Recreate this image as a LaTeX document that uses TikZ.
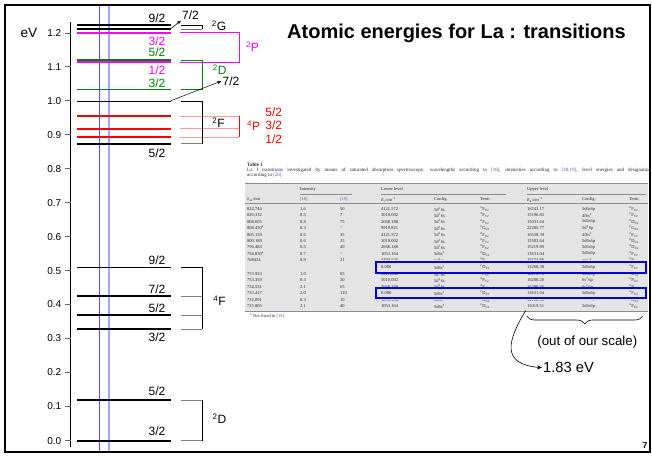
\documentclass[tikz,border=0pt]{standalone}
\usepackage{fontspec}
\setmainfont{Liberation Sans}
\newfontfamily\tabfont{Liberation Serif}
\usetikzlibrary{arrows.meta,decorations.pathreplacing}
\definecolor{mag}{RGB}{255,0,255}
\definecolor{grn}{RGB}{0,128,0}
\definecolor{rd}{RGB}{255,0,0}
\definecolor{blueA}{RGB}{80,80,255}
\definecolor{blueB}{RGB}{165,165,255}
\definecolor{tabgray}{RGB}{228,228,228}
\definecolor{tabtxt}{RGB}{40,40,40}
\definecolor{boxblue}{RGB}{0,0,225}
\definecolor{reflink}{RGB}{70,90,200}
\newcommand\trm[3]{\textsuperscript{#1}#2\textsubscript{#3/2}}
\newcommand\sterm[2]{\textsuperscript{#1}#2}
\newcommand\cfa{5d\textsuperscript{2}6s}
\newcommand\cfb{5d6s\textsuperscript{2}}
\newcommand\cfc{5d6s6p}
\newcommand\cfd{4f6s\textsuperscript{2}}
\newcommand\cfe{5d\textsuperscript{2}6p}
\newcommand\cff{6s\textsuperscript{2}6p}
\newcommand\rf[1]{\textcolor{reflink}{[#1]}}
\begin{document}
\begin{tikzpicture}[x=1pt,y=-1pt,
  lvl/.style={line width=1.6pt},
  brk/.style={line width=0.6pt},
  ghost/.style={line width=0.8pt},
  ticklab/.style={font=\fontsize{10}{10}\selectfont, anchor=east, inner sep=0pt},
  jlab/.style={font=\fontsize{12}{12}\selectfont, inner sep=1pt},
  termlab/.style={font=\fontsize{12}{12}\selectfont, inner sep=1pt},
  tb/.style={font=\tabfont\fontsize{4.5}{4.5}\selectfont, text=tabtxt, anchor=west, inner sep=0pt},
  captxt/.style={font=\tabfont\fontsize{5}{5.3}\selectfont, text=black!85, anchor=west, inner sep=0pt},
]
\useasboundingbox (0,0) rectangle (652,455);
\draw[line width=2pt] (5,5) rectangle (650,452);

% title
\node[font=\bfseries\fontsize{20}{20}\selectfont, anchor=west, inner sep=0pt] (title) at (287,33) {Atomic energies for La : transitions};

% blue vertical lines
\draw[blueA, line width=1pt] (99.3,6) -- (99.3,451);
\draw[blueB, line width=2pt] (109,6) -- (109,451);

% axis
\draw[line width=1pt] (70.7,21.7) -- (70.7,446.7);
\node[font=\fontsize{13.6}{14}\selectfont] (ev) at (29,33) {eV};
\foreach \v/\yy [count=\k] in {1.2/33.3,1.1/66.9,1.0/100.8,0.9/134.8,0.8/168.7,0.7/202.7,0.6/236.6,0.5/270.6,0.4/304.5,0.3/338.5,0.2/372.4,0.1/406.4,0.0/440.7}{
  \draw[black!60, line width=0.9pt] (64.5,\yy) -- (70.7,\yy);
  \node[ticklab] (tk\k) at (61.5,\yy) {\v};
}

% energy levels
\foreach \yy in {25,29,101.3,143.7,267.3,296,315,329,400,440.7}{
  \draw[lvl] (76.7,\yy) -- (170.7,\yy);
}
\draw[lvl, mag] (76.7,32.7) -- (170.7,32.7);
\draw[lvl, grn] (76.7,60) -- (170.7,60);
\draw[lvl, mag] (76.7,62) -- (170.7,62);
\draw[lvl, grn] (76.7,89.3) -- (170.7,89.3);
\foreach \yy in {116,128.7,137}{
  \draw[lvl, rd] (76.7,\yy) -- (170.7,\yy);
}

% brackets / ghost lines
% 2G
\draw[ghost, black!55] (180.7,29) -- (202.3,29);
\draw[brk] (180.7,25) -- (202.3,25) -- (202.3,29);
% 2P
\draw[brk, mag] (180,32.7) -- (239.3,32.7) -- (239.3,62) -- (180,62);
% 2D green
\draw[brk, grn] (180.7,60) -- (202.3,60) -- (202.3,89.3) -- (180.7,89.3);
% 4P ghost lines
\foreach \yy in {116,128.7,137}{
  \draw[ghost, rd!40] (180,\yy) -- (239.3,\yy);
}
\draw[brk, rd] (239.3,116) -- (239.3,137);
% 2F
\draw[ghost, black!50] (180.7,143.7) -- (202.3,143.7);
\draw[brk] (180.7,101.3) -- (202.3,101.3) -- (202.3,143.7);
% 4F
\foreach \yy in {296,315,329}{
  \draw[ghost, black!50] (180.7,\yy) -- (202.3,\yy);
}
\draw[brk] (180.7,267.3) -- (202.3,267.3) -- (202.3,329);
% 2D bottom
\draw[ghost, black!50] (180.7,400) -- (202.3,400);
\draw[ghost, black!50] (180.7,440.7) -- (202.3,440.7);
\draw[brk] (202.3,400) -- (202.3,440.7);

% term labels
\node[termlab] (tG) at (219,26) {\sterm{2}{G}};
\node[termlab, text=mag] (tP) at (252.5,46.7) {\sterm{2}{P}};
\node[termlab, text=grn] (tDg) at (219.7,70) {\sterm{2}{D}};
\node[termlab] (tF) at (218.5,122.5) {\sterm{2}{F}};
\node[termlab, text=rd] (tP4) at (253.7,125.7) {\sterm{4}{P}};
\node[termlab] (tF4) at (219.5,300.7) {\sterm{4}{F}};
\node[termlab] (tD) at (219.5,419) {\sterm{2}{D}};

% J labels
\node[jlab] (j1) at (157,18.5) {9/2};
\node[jlab, text=mag] (j2) at (157,41.7) {3/2};
\node[jlab, text=grn] (j3) at (157,52.3) {5/2};
\node[jlab, text=mag] (j4) at (157,70) {1/2};
\node[jlab, text=grn] (j5) at (157,83.3) {3/2};
\node[jlab] (j6) at (157,153) {5/2};
\node[jlab, text=rd] (j7) at (273.8,112.7) {5/2};
\node[jlab, text=rd] (j8) at (273.8,125.7) {3/2};
\node[jlab, text=rd] (j9) at (273.8,139.2) {1/2};
\node[jlab] (j10) at (157,260) {9/2};
\node[jlab] (j11) at (157,289.3) {7/2};
\node[jlab] (j12) at (157,308.5) {5/2};
\node[jlab] (j13) at (157,337.3) {3/2};
\node[jlab] (j14) at (157,391.7) {5/2};
\node[jlab] (j15) at (157,431) {3/2};
\node[jlab] (j72a) at (190.5,15) {7/2};
\node[jlab] (j72b) at (231,81) {7/2};
\coordinate (e1) at (171,28.5);
\coordinate (e2) at (171,100.7);
\draw[line width=0.6pt, -{Stealth[length=4.5pt,width=3.5pt]}] (e1) -- (j72a.south west);
\draw[line width=0.5pt, -{Stealth[length=4.5pt,width=3.5pt]}] (e2) -- (j72b.west);

% ---------------- table ----------------
\node[captxt, font=\tabfont\bfseries\fontsize{5}{5}\selectfont] (tabttl) at (247,165) {Table 1};
\begin{scope}
\clip (240,160) rectangle (650,180);
\node[captxt] (capA) at (247,170) {\hbox to 404pt{La I transitions investigated by means of saturated absorption spectroscopy; wavelengths according to \rf{18}, intensities according to \rf{18,19}, level energies and designation}};
\end{scope}
\node[captxt] (capB) at (247,175.5) {according to \rf{20}.};
\fill[tabgray] (245,183) rectangle (648,311.5);
\draw[black!45, line width=0.4pt] (245,183) -- (648,183);
\draw[black!45, line width=0.4pt] (245,203.5) -- (648,203.5);
\draw[black!45, line width=0.4pt] (245,311.5) -- (648,311.5);
\draw[black!45, line width=0.3pt] (300,194) -- (352,194);
\draw[black!45, line width=0.3pt] (381,194) -- (506,194);
\draw[black!45, line width=0.3pt] (527,194) -- (646,194);
\node[tb] (hInt) at (300,189) {Intensity};
\node[tb] (hLow) at (381,189) {Lower level};
\node[tb] (hUp) at (527,189) {Upper level};
\node[tb] (h1) at (247,199.5) {λ\textsubscript{air}/nm};
\node[tb] (h2) at (300,199.5) {\rf{18}};
\node[tb] (h3) at (340,199.5) {\rf{19}};
\node[tb] (h4) at (381,199.5) {\textit{E}\textsubscript{i}/cm\textsuperscript{−1}};
\node[tb] (h5) at (434,199.5) {Config.};
\node[tb] (h6) at (480,199.5) {Term};
\node[tb] (h7) at (527,199.5) {\textit{E}\textsubscript{k}/cm\textsuperscript{−1}};
\node[tb] (h8) at (582,199.5) {Config.};
\node[tb] (h9) at (629,199.5) {Term};

\foreach \ry/\ca/\cb/\cc/\cd/\ce/\cf/\cg/\ch/\ci [count=\n] in {
 209/824.744/1.6/50/4121.572/\cfa/\trm{4}{F}{9}/16243.17/\cfc/\trm{4}{F}{9},
 215.4/820.332/0.5/7/3010.002/\cfa/\trm{4}{F}{7}/15196.83/\cfd/\trm{2}{F}{7},
 221.8/808.605/0.8/75/2668.188/\cfa/\trm{4}{F}{5}/15031.64/\cfc/\trm{2}{D}{5},
 228.2/808.450\textsuperscript{a}/0.3/–/9919.821/\cfa/\trm{2}{G}{9}/22285.77/\cfe/\trm{2}{G}{9},
 234.6/805.139/0.6/35/4121.572/\cfa/\trm{4}{F}{9}/16538.39/\cfd/\trm{2}{F}{7},
 241/800.189/0.6/35/3010.002/\cfa/\trm{4}{F}{7}/15503.64/\cfc/\trm{4}{D}{5},
 247.4/796.483/0.5/40/2668.188/\cfa/\trm{4}{F}{5}/15219.89/\cfc/\trm{4}{D}{3},
 253.8/794.830\textsuperscript{a}/0.7/–/1053.164/\cfb/\trm{2}{D}{5}/13631.04/\cfc/\trm{4}{F}{5},
 260.2/768434/0.9/21/3494.526/\cfa/\trm{4}{F}{9}/16174.86/\cfd/\trm{2}{F}{7},
 274/753.923/1.0/85/3010.002/\cfa/\trm{4}{F}{7}/16270.75/\cfc/\trm{4}{D}{7},
 280.4/753.359/0.3/30/3010.002/\cfa/\trm{4}{F}{7}/16280.26/\cff/\trm{2}{P}{3},
 286.8/734.531/2.1/65/2668.188/\cfa/\trm{4}{F}{5}/16280.26/\cff/\trm{2}{P}{3},
 293.2/733.417/2.0/110/0.000/\cfb/\trm{2}{D}{3}/13631.04/\cfc/\trm{4}{F}{5},
 299.6/732.091/0.3/10/1053.164/\cfb/\trm{2}{D}{5}/14708.92/\cfc/\trm{4}{D}{5},
 306/715.805/2.1/40/1053.164/\cfb/\trm{2}{D}{5}/15019.51/\cfc/\trm{4}{F}{5}}{
  \node[tb] (r\n a) at (247,\ry) {\ca};
  \node[tb] (r\n b) at (300,\ry) {\cb};
  \node[tb] (r\n c) at (340,\ry) {\cc};
  \node[tb] (r\n d) at (381,\ry) {\cd};
  \node[tb] (r\n e) at (434,\ry) {\ce};
  \node[tb] (r\n f) at (480,\ry) {\cf};
  \node[tb] (r\n g) at (527,\ry) {\cg};
  \node[tb] (r\n h) at (582,\ry) {\ch};
  \node[tb] (r\n i) at (629,\ry) {\ci};
}
% pasted rows covering parts of the table
\fill[tabgray] (376,260.3) rectangle (646,274);
\fill[tabgray] (376,286.8) rectangle (646,289.6);
\fill[tabgray] (376,297.2) rectangle (646,299.6);
\node[tb] (pa) at (381,267.3) {0.000};
\node[tb] (pb) at (434,267.3) {\cfb};
\node[tb] (pc) at (480,267.3) {\trm{2}{D}{3}};
\node[tb] (pd) at (527,267.3) {13260.38};
\node[tb] (pe) at (582,267.3) {\cfc};
\node[tb] (pf) at (629,267.3) {\trm{4}{F}{3}};
\draw[boxblue, line width=1.8pt] (376,262) rectangle (646,272.7);
\draw[boxblue, line width=1.8pt] (376,288.3) rectangle (646,298.3);
\node[tb] (foot) at (250,315.7) {\textsuperscript{a} Not listed in \rf{19}.};

% brace, arrow and notes
\draw[line width=0.6pt, decorate, decoration={brace, amplitude=8pt}] (642.7,316) -- (526.7,316);
\node[font=\fontsize{13.3}{14}\selectfont] (oos) at (587.3,341.7) {(out of our scale)};
\node[font=\fontsize{14.7}{15}\selectfont, anchor=west, inner sep=1pt] (ev183) at (542,367.7) {1.83 eV};
\coordinate (cs) at (525.7,310.5);
\draw[line width=0.6pt, -{Stealth[length=5pt,width=4pt]}] (cs) .. controls (508,340) and (500,364) .. (ev183.west);

\node[font=\bfseries\fontsize{8.5}{9}\selectfont] (pg) at (645,446) {7};
\end{tikzpicture}
\end{document}
